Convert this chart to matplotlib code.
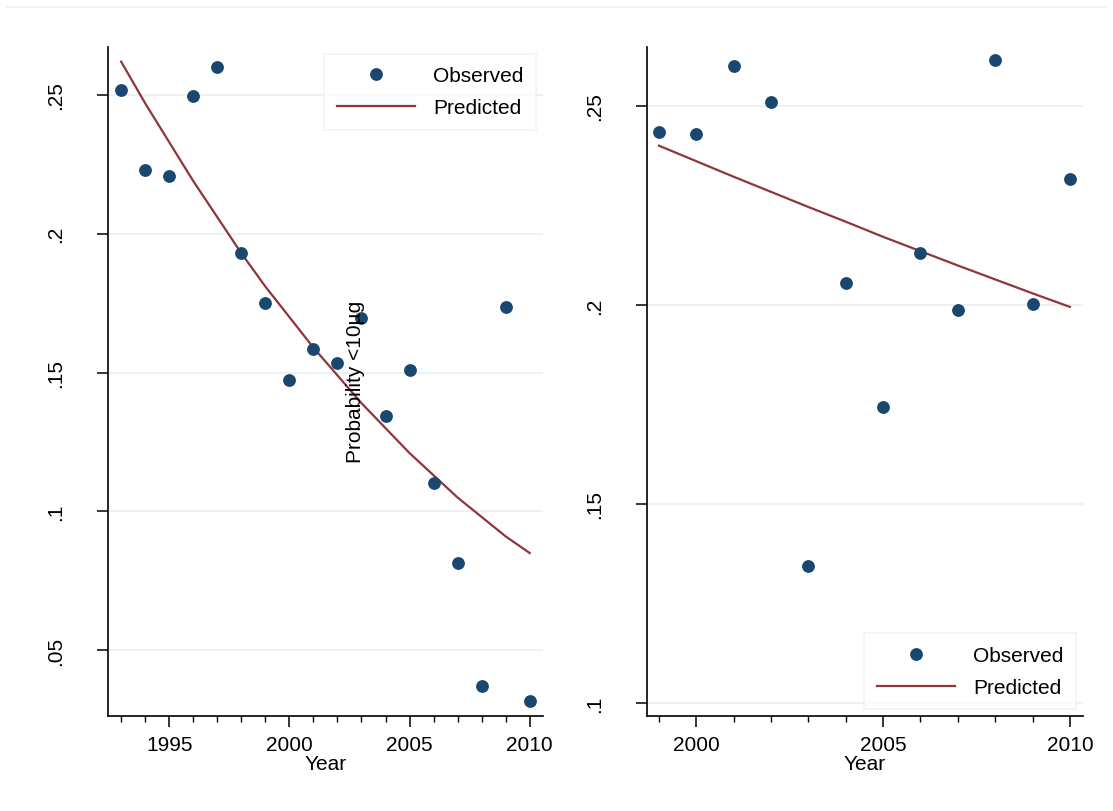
#observed vs predicted probability of <10ug, two periods side by side
#values

import matplotlib
matplotlib.use("Agg")
import matplotlib.pyplot as plt
from matplotlib.lines import Line2D
from matplotlib.ticker import MultipleLocator

plt.rcParams['font.family'] = ['Liberation Sans', 'DejaVu Sans']

#left panel: 1993-2010
years_a = list(range(1993, 2011))
observed_a = [0.2518, 0.2230, 0.2209, 0.2496, 0.2600, 0.1932, 0.1752, 0.1475, 0.1586,
              0.1536, 0.1698, 0.1342, 0.1511, 0.1101, 0.0813, 0.0371, 0.1737, 0.0317]
predicted_a = [0.262, 0.247, 0.233, 0.219, 0.206, 0.193, 0.181, 0.170, 0.159,
               0.149, 0.139, 0.130, 0.121, 0.113, 0.105, 0.098, 0.091, 0.085]

#right panel: 1999-2010
years_b = list(range(1999, 2011))
observed_b = [0.2435, 0.2430, 0.2600, 0.2510, 0.1344, 0.2055, 0.1744, 0.2131,
              0.1987, 0.2616, 0.2003, 0.2317]
predicted_b = [0.2400, 0.2361, 0.2322, 0.2284, 0.2246, 0.2209, 0.2171, 0.2135,
               0.2099, 0.2064, 0.2029, 0.1995]

yticks_a = [0.05, 0.1, 0.15, 0.2, 0.25]
yticklabels_a = ['.05', '.1', '.15', '.2', '.25']
yticks_b = [0.1, 0.15, 0.2, 0.25]
yticklabels_b = ['.1', '.15', '.2', '.25']
xticks_a = [1995, 2000, 2005, 2010]
xticks_b = [2000, 2005, 2010]

DOT = '#1a476f'
LINE = '#90353b'
GRID = '#eaf2f3'
FS = 15

fig = plt.figure(figsize=(11.13, 8.12), dpi=100)
fig.patch.set_facecolor('white')

#faint border line at the very top of the graph region
fig.add_artist(Line2D([0.006, 0.994], [0.990, 0.990], color=GRID, lw=1.2))

ax1 = fig.add_axes([0.0970, 0.1170, 0.3908, 0.8239])
ax2 = fig.add_axes([0.5813, 0.1170, 0.3917, 0.8239])


def style_panel(ax, yticks, yticklabels, xticks, xlim, ylim, loc):
    ax.set_xlim(*xlim)
    ax.set_ylim(*ylim)
    for s in ['top', 'right']:
        ax.spines[s].set_visible(False)
    for s in ['left', 'bottom']:
        ax.spines[s].set_linewidth(1.2)
    ax.set_yticks(yticks)
    ax.set_yticklabels(yticklabels, rotation=90, va='center', fontsize=FS)
    ax.set_xticks(xticks)
    ax.set_xticklabels([str(x) for x in xticks], fontsize=FS)
    ax.xaxis.set_minor_locator(MultipleLocator(1))
    ax.tick_params(axis='y', length=8, width=1.1, pad=23)
    ax.tick_params(axis='x', which='major', length=8, width=1.1, pad=6)
    ax.tick_params(axis='x', which='minor', length=4.5, width=1.0)
    ax.yaxis.grid(True, color=GRID, lw=1.5)
    ax.set_axisbelow(True)
    ax.set_xlabel('Year', fontsize=FS, labelpad=0)
    leg = ax.legend(loc=loc, fontsize=FS, frameon=True, fancybox=False,
                    handlelength=3.75, handletextpad=0.9, borderpad=0.6,
                    labelspacing=0.62, borderaxespad=0.32)
    leg.get_frame().set_edgecolor(GRID)
    leg.get_frame().set_linewidth(1.2)


ax1.plot(years_a, observed_a, 'o', color=DOT, ms=8.2, label='Observed', zorder=3)
ax1.plot(years_a, predicted_a, '-', color=LINE, lw=1.6, label='Predicted', zorder=2)
style_panel(ax1, yticks_a, yticklabels_a, xticks_a, (1992.45, 2010.55), (0.0263, 0.2673),
            'upper right')

ax2.plot(years_b, observed_b, 'o', color=DOT, ms=8.2, label='Observed', zorder=3)
ax2.plot(years_b, predicted_b, '-', color=LINE, lw=1.6, label='Predicted', zorder=2)
style_panel(ax2, yticks_b, yticklabels_b, xticks_b, (1998.68, 2010.35), (0.0967, 0.2648),
            'lower right')

#shared y title sits in the middle of the figure
fig.text(0.319, 0.530, 'Probability <10\u00b5g', rotation=90, fontsize=FS,
         ha='center', va='center')

fig.savefig('out.png', dpi=100, facecolor='white')
